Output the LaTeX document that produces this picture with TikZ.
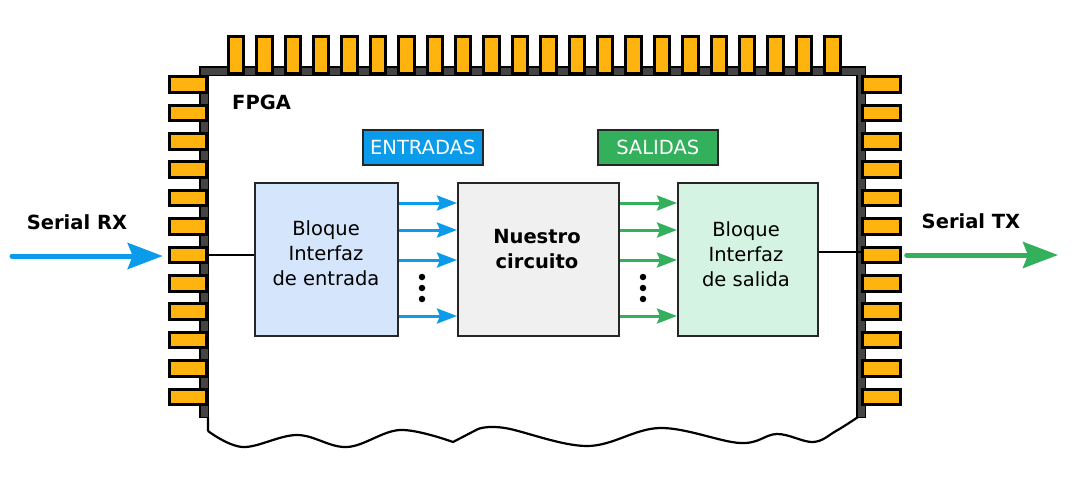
\documentclass[tikz,border=0pt]{standalone}
\usepackage{fontspec}
\setmainfont{DejaVu Sans}
\usetikzlibrary{arrows.meta}
\definecolor{pinor}{HTML}{FFB30F}
\definecolor{chipgray}{HTML}{444444}
\definecolor{inblue}{HTML}{0A9BEA}
\definecolor{outgreen}{HTML}{33B05B}
\definecolor{entfill}{HTML}{D5E5FC}
\definecolor{cirfill}{HTML}{F0F0F0}
\definecolor{salfill}{HTML}{D5F3E3}
\begin{document}
\begin{tikzpicture}[x=1pt,y=-1pt,
  every node/.style={font=\fontsize{19.5}{25}\selectfont},
  pinv/.style={draw=black,line width=3pt,fill=pinor,minimum width=15.5pt,minimum height=37.5pt,inner sep=0pt},
  pinh/.style={draw=black,line width=3pt,fill=pinor,minimum width=37.5pt,minimum height=15.5pt,inner sep=0pt},
  block/.style={draw=black!85,line width=1.6pt,inner sep=0pt,anchor=north west,minimum height=153pt},
  tag/.style={draw=black!85,line width=1.6pt,inner sep=0pt,anchor=north west,minimum width=120pt,minimum height=35pt,text=white},
  btext/.style={align=center,inner sep=0pt},
  sig/.style={line width=3pt,-{Stealth[length=20pt,width=15pt,inset=3pt]}},
  bigsig/.style={line width=5pt,line cap=round,-{Stealth[length=35pt,width=26pt,inset=5pt]}},
  dotnode/.style={circle,fill=black,inner sep=0pt,minimum size=6.5pt},
  wire/.style={line width=2pt,black}
]
\useasboundingbox (0,0) rectangle (1076,491);

% chip body band
\draw[line width=10.5pt,black,line join=miter] (204,418) -- (204,71) -- (861,71) -- (861,418);
\draw[line width=7pt,chipgray,line join=miter] (204,417) -- (204,71) -- (861,71) -- (861,417);
% wavy bottom edge
\draw[line width=2.2pt,line join=round] (208,418) -- (208,431)
  plot[smooth,tension=0.6] coordinates {(208,431) (243,447) (297,435) (347,447) (400,430) (453,442)}
  -- (478,429)
  plot[smooth,tension=0.6] coordinates {(478,429) (505,428) (587,446) (660,428) (740,443) (777,434) (813,442) (836,431) (858,417)};

% pins
\foreach \i in {0,...,21} {
  \node[pinv] (pT\i) at ({236+28.4*\i},55) {};
}
\foreach \j in {0,...,11} {
  \node[pinh] (pL\j) at (188,{84.5+28.4*\j}) {};
  \node[pinh] (pR\j) at (881.5,{84.5+28.4*\j}) {};
}

% label
\node[font=\fontsize{19.5}{25}\selectfont\bfseries,anchor=west,inner sep=0pt] (fpga) at (232,102) {FPGA};

% tags
\node[tag,fill=inblue] (ent-tag) at (362,129) {ENTRADAS};
\node[tag,fill=outgreen] (sal-tag) at (597,129) {SALIDAS};

% blocks
\node[block,fill=entfill,minimum width=143pt] (ent) at (254,182) {};
\node[block,fill=cirfill,minimum width=161pt] (cir) at (457,182) {};
\node[block,fill=salfill,minimum width=140pt] (sal) at (677,182) {};

\node[btext] (ent-t) at (326,253.5) {Bloque\\Interfaz\\de entrada};
\node[btext,font=\fontsize{19.5}{25}\selectfont\bfseries] (cir-t) at (537,249.5) {Nuestro\\circuito};
\node[btext] (sal-t) at (746,254.5) {Bloque\\Interfaz\\de salida};

% internal arrows
\foreach \yy in {203,230,260,316} {
  \draw[sig,inblue] (ent.east |- 0,\yy) -- (cir.west |- 0,\yy);
  \draw[sig,outgreen] (cir.east |- 0,\yy) -- (sal.west |- 0,\yy);
}
\foreach \yy/\k in {277/1,288/2,299/3} {
  \node[dotnode] (dl\k) at (422,\yy) {};
  \node[dotnode] (dr\k) at (643,\yy) {};
}

% wires to pins
\draw[wire] (pL6.east) -- (ent.west |- pL6.east);
\draw[wire] (sal.east |- 0,252) -- (pR6.west |- 0,252);

% serial lines
\coordinate (rxs) at (12,256);
\coordinate (txe) at (1058,255);
\draw[bigsig,inblue] (rxs) -- ([xshift=-5pt]pL6.west |- rxs);
\draw[bigsig,outgreen] ([xshift=5pt]pR6.east |- txe) -- (txe);
\node[font=\fontsize{19.5}{25}\selectfont\bfseries] (rx-l) at (77,222) {Serial RX};
\node[font=\fontsize{19.5}{25}\selectfont\bfseries] (tx-l) at (971,221) {Serial TX};
\end{tikzpicture}
\end{document}
